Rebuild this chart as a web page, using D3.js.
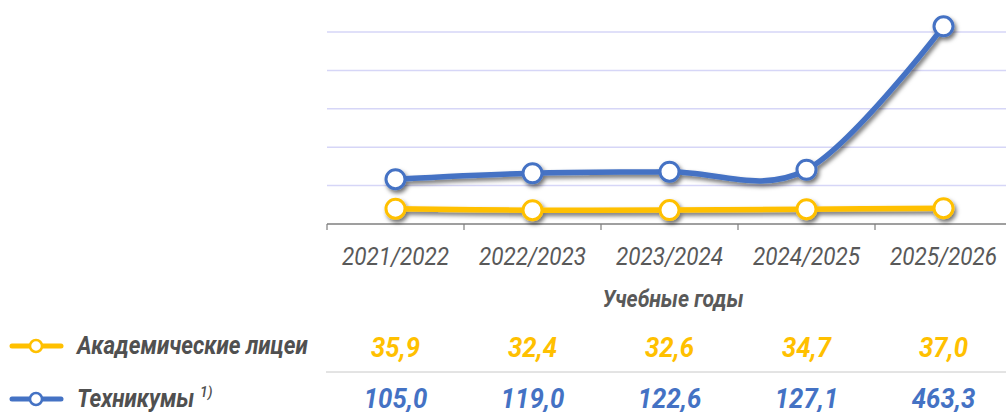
<!DOCTYPE html>
<html>
<head>
<meta charset="utf-8">
<script src="https://cdn.jsdelivr.net/npm/d3@7"></script>
<style>
  body { margin: 0; background: #fff; }
  svg { display: block; font-family: Roboto, "Noto Sans", sans-serif; }
</style>
</head>
<body>
<svg id="chart" width="1006" height="412"></svg>
<script>
// data
var years = ["2021/2022", "2022/2023", "2023/2024", "2024/2025", "2025/2026"];
var licei = [35.9, 32.4, 32.6, 34.7, 37.0];
var tehnikumy = [105.0, 119.0, 122.6, 127.1, 463.3];
var seriesNames = ["Академические лицеи", "Техникумы"];
var yTicks = [0, 90, 180, 270, 360, 450];

var colors = ["#FFC000", "#4472C4"];

var svg = d3.select("#chart");

// squeeze a text horizontally (the original uses a condensed face)
function condense(sel, k){
  sel.each(function(){
    var w = this.getComputedTextLength();
    d3.select(this).attr("textLength", w * k).attr("lengthAdjust", "spacingAndGlyphs");
  });
}

// shadow for lines + markers
var defs = svg.append("defs");
var f = defs.append("filter").attr("id", "shadow")
  .attr("x", "-20%").attr("y", "-20%").attr("width", "140%").attr("height", "160%");
f.append("feDropShadow").attr("dx", 2).attr("dy", 3).attr("stdDeviation", 2)
  .attr("flood-color", "#000").attr("flood-opacity", 0.55);

// scales
var x = d3.scaleBand().domain(years).range([327, 1012]);
var y = d3.scaleLinear().domain([0, 450]).range([224, 32]);

//======= gridlines
svg.append("g").selectAll("line")
  .data(yTicks.slice(1))
  .enter().append("line")
  .attr("x1", 327).attr("x2", 1006)
  .attr("y1", function(d){ return y(d); })
  .attr("y2", function(d){ return y(d); })
  .attr("stroke", "#d6d6f7").attr("stroke-width", 1.5);

//======= x axis
var xAxis = svg.append("g")
  .attr("transform", "translate(0," + y(0) + ")")
  .call(d3.axisBottom(x).tickSize(0).tickPadding(0).tickFormat(""));
xAxis.select(".domain").attr("stroke", "#7f7f7f").attr("stroke-width", 1.5).attr("d", "M327,0H1006");

// tick marks between categories
xAxis.selectAll(".sep")
  .data(years)
  .enter().append("line")
  .attr("x1", function(d){ return x(d); })
  .attr("x2", function(d){ return x(d); })
  .attr("y1", 0).attr("y2", 6)
  .attr("stroke", "#7f7f7f").attr("stroke-width", 1.2);

// category labels
svg.append("g").selectAll("text")
  .data(years)
  .enter().append("text")
  .attr("x", function(d){ return x(d) + x.bandwidth() / 2; })
  .attr("y", 265)
  .attr("text-anchor", "middle")
  .attr("font-size", 25)
  .attr("font-style", "italic")
  .attr("fill", "#595959")
  .text(function(d){ return d; })
  .call(condense, 0.9);

svg.append("text")
  .attr("x", 673).attr("y", 307)
  .attr("text-anchor", "middle")
  .attr("font-size", 23).attr("font-weight", "bold").attr("font-style", "italic")
  .attr("fill", "#595959")
  .text("Учебные годы")
  .call(condense, 0.92);

//======= lines
var line = d3.line()
  .curve(d3.curveCardinal.tension(0))
  .x(function(d, i){ return x(years[i]) + x.bandwidth() / 2; })
  .y(function(d){ return y(d); });

var allSeries = [licei, tehnikumy];

allSeries.forEach(function(vals, k){
  var g = svg.append("g").attr("filter", "url(#shadow)");
  g.append("path")
    .attr("d", line(vals))
    .attr("fill", "none")
    .attr("stroke", colors[k])
    .attr("stroke-width", 5.5);
  g.selectAll("circle")
    .data(vals)
    .enter().append("circle")
    .attr("cx", function(d, i){ return x(years[i]) + x.bandwidth() / 2; })
    .attr("cy", function(d){ return y(d); })
    .attr("r", 9.5)
    .attr("fill", "#fff")
    .attr("stroke", colors[k])
    .attr("stroke-width", 3);
});

//======= data table / legend
var rowY = [346, 399];
var labelBase = [354, 407];
var valueBase = [357, 408];
var fmt = function(v){ return v.toFixed(1).replace(".", ","); };

svg.append("line")
  .attr("x1", 326).attr("x2", 1006)
  .attr("y1", 372).attr("y2", 372)
  .attr("stroke", "#c8c8c8").attr("stroke-width", 1);

allSeries.forEach(function(vals, k){
  var ly = rowY[k];
  svg.append("line")
    .attr("x1", 12).attr("x2", 61)
    .attr("y1", ly).attr("y2", ly)
    .attr("stroke", colors[k]).attr("stroke-width", 5).attr("stroke-linecap", "round");
  svg.append("circle")
    .attr("cx", 36).attr("cy", ly).attr("r", 6)
    .attr("fill", "#fff").attr("stroke", colors[k]).attr("stroke-width", 2.5);

  var t = svg.append("text")
    .attr("x", 77).attr("y", labelBase[k])
    .attr("font-size", 26).attr("font-weight", "bold").attr("font-style", "italic")
    .attr("fill", "#505050")
    .text(seriesNames[k])
    .call(condense, 0.86);
  if (k === 1) {
    svg.append("text")
      .attr("x", 200).attr("y", labelBase[k] - 10)
      .attr("font-size", 14).attr("font-weight", 500).attr("font-style", "italic")
      .attr("fill", "#505050")
      .text("1)");
  }

  svg.append("g").selectAll("text")
    .data(vals)
    .enter().append("text")
    .attr("x", function(d, i){ return x(years[i]) + x.bandwidth() / 2; })
    .attr("y", valueBase[k])
    .attr("text-anchor", "middle")
    .attr("font-size", 28).attr("font-weight", "bold").attr("font-style", "italic")
    .attr("fill", colors[k])
    .text(fmt)
    .call(condense, 0.92);
});
</script>
</body>
</html>
